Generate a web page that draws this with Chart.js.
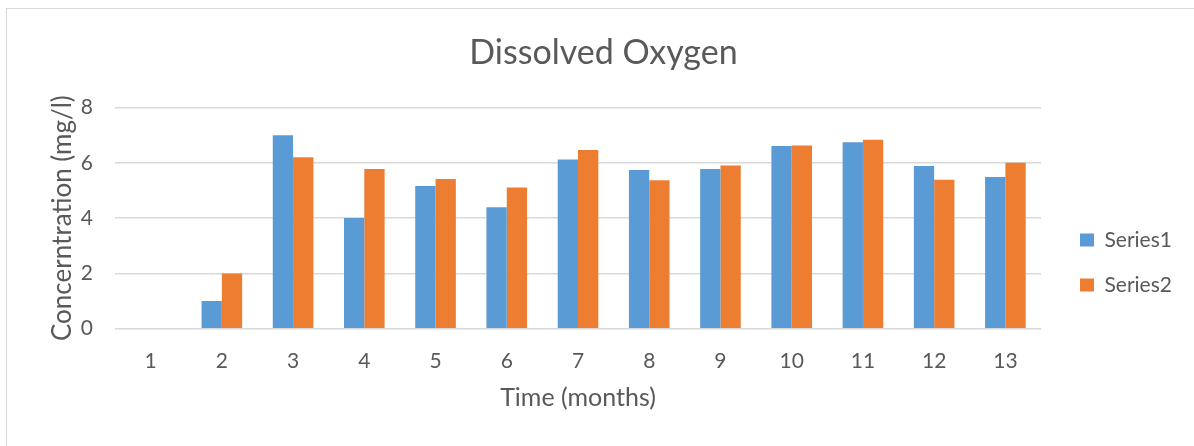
<!DOCTYPE html>
<html>
<head>
<meta charset="utf-8">
<script src="https://cdn.jsdelivr.net/npm/chart.js@4/dist/chart.umd.min.js"></script>
<style>
 html,body{margin:0;padding:0;background:#fff;overflow:hidden;}
 #frame{position:absolute;left:6px;top:8px;width:1300px;height:500px;border:1px solid #d9d9d9;}
 #chart{position:absolute;left:8px;top:10px;}
</style>
</head>
<body>
<div id="frame"></div>
<canvas id="chart" width="1191" height="436"></canvas>
<script>
const months=['1','2','3','4','5','6','7','8','9','10','11','12','13'];
const seriesNames=['Series1','Series2'];
const series1=[0,1,7,4,5.16,4.39,6.12,5.74,5.78,6.61,6.74,5.88,5.49];
const series2=[0,2,6.2,5.78,5.41,5.11,6.46,5.37,5.9,6.63,6.83,5.39,6.0];
const yTicks=[0,2,4,6,8];

const grey='#595959';
Chart.defaults.font.family='Lato';
Chart.defaults.color=grey;

// legend width decides where the title centre lands, so measure the labels
const m=document.createElement('canvas').getContext('2d');
m.font='normal 21px Lato';
const textW=Math.max(...seriesNames.map(s=>m.measureText(s).width));
const legendW=24+14+10.5+textW+10;
const legendLeft=1048;
const padLeft=Math.max(0,2*595.5-(legendLeft+legendW));
const padRight=1191-legendLeft-legendW;

new Chart(document.getElementById('chart'),{
 type:'bar',
 data:{
  labels:months,
  datasets:[
   {label:seriesNames[0],data:series1,backgroundColor:'#5B9BD5'},
   {label:seriesNames[1],data:series2,backgroundColor:'#ED7D31'}
  ]
 },
 options:{
  responsive:false,
  animation:false,
  devicePixelRatio:1,
  categoryPercentage:0.57,
  barPercentage:1,
  layout:{padding:{left:padLeft,right:padRight,top:0,bottom:33}},
  plugins:{
   tooltip:{enabled:false},
   title:{
    display:true,
    text:'Dissolved Oxygen',
    color:grey,
    font:{size:34,weight:'normal'},
    padding:{top:22.6,bottom:34.1}
   },
   legend:{
    position:'right',
    align:'center',
    title:{display:true,text:'',font:{size:1,lineHeight:1},padding:{top:101,bottom:0}},
    labels:{boxWidth:14,boxHeight:13,padding:24,color:grey,font:{size:21}}
   }
  },
  scales:{
   x:{
    grid:{display:false},
    border:{display:false},
    ticks:{padding:12.4,font:{size:21},color:grey},
    title:{display:true,text:'Time (months)',color:grey,font:{size:25},padding:{top:0,bottom:0}},
    afterFit(s){s.height=84.3;}
   },
   y:{
    min:0,max:8,
    afterBuildTicks(s){s.ticks=yTicks.map(v=>({value:v}));},
    grid:{color:'#d9d9d9',lineWidth:1.5,drawTicks:false},
    border:{display:false},
    ticks:{padding:22,font:{size:21},color:grey},
    title:{display:true,text:'Concerntration (mg/l)',color:grey,font:{size:26},padding:{top:54.5-padLeft-15.6,bottom:0}},
    afterFit(s){s.width=107-padLeft;}
   },
   y2:{
    position:'right',
    grid:{display:false},
    border:{display:false},
    ticks:{display:false},
    afterFit(s){s.width=15;}
   }
  }
 }
});
</script>
</body>
</html>
